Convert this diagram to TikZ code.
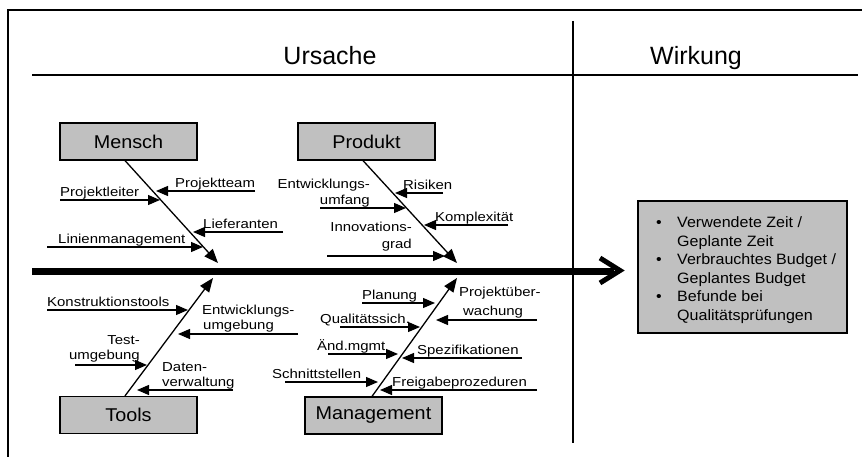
\documentclass[tikz,border=0pt]{standalone}
\usepackage{fontspec}
\setmainfont{Liberation Sans}
\newfontfamily\lblfont{Liberation Sans}[FakeStretch=1.15]
\newfontfamily\boxfont{Liberation Sans}[FakeStretch=1.07]
\usetikzlibrary{arrows.meta}
\definecolor{boxgray}{RGB}{192,192,192}
\begin{document}
\begin{tikzpicture}[x=1pt,y=-1pt,
  cat/.style={draw=black, line width=1.2pt, fill=boxgray, minimum width=137pt, minimum height=37pt, inner sep=0pt, font=\boxfont\fontsize{18.5}{21}\selectfont},
  lbl/.style={inner sep=0pt, font=\lblfont\fontsize{13}{15}\selectfont},
  lw/.style={lbl, anchor=base west},
  le/.style={lbl, anchor=base east},
  arr/.style={line width=1.2pt, -{Triangle[length=12pt,width=10pt]}},
  bone/.style={line width=1.3pt, -{Triangle[length=14pt,width=11pt]}},
  head/.style={font=\fontsize{25}{30}\selectfont, anchor=base, inner sep=0pt},
]
\useasboundingbox[fill=white] (0,0) rectangle (862,457);
% frame and header
\draw[line width=2pt] (8,457) -- (8,10) -- (862,10);
\draw[line width=1.3pt] (32,75) -- (858,75);
\draw[line width=2pt] (573,21) -- (573,443);
\node[head] (ursache) at (330,65) {Ursache};
\node[head] (wirkung) at (696,65) {Wirkung};

% category boxes
\node[cat] (mensch) at (128.5,141.5) {Mensch};
\node[cat] (produkt) at (366.5,141.5) {Produkt};
\node[cat] (tools) at (128.5,415) {Tools};
\node[cat] (mgmt) at (373.5,415.5) {Management};

% spine
\coordinate (sps) at (32,271);
\coordinate (spe) at (614,271);
\draw[line width=7pt] (sps) -- (spe);
\coordinate (ch1) at (600,258);
\coordinate (ch2) at (620,270.5);
\coordinate (ch3) at (600,283);
\draw[line width=5pt, line join=miter] (ch1) -- (ch2) -- (ch3);

% bones
\coordinate (mbe) at (218,263);
\coordinate (pbe) at (457,263);
\coordinate (tbe) at (213,278);
\coordinate (gbe) at (457,278);
\draw[bone] ([xshift=-3.5pt]mensch.south) -- (mbe);
\draw[bone] ([xshift=-3.5pt]produkt.south) -- (pbe);
\draw[bone] ([xshift=-3.5pt]tools.north) -- (tbe);
\draw[bone] ([xshift=-1.5pt]mgmt.north) -- (gbe);

% Mensch causes
\coordinate (a1s) at (255,191); \coordinate (a1e) at (156,191);
\draw[arr] (a1s) -- (a1e);
\node[lw] (t1) at (175,187.5) {Projektteam};
\coordinate (a2s) at (60,200); \coordinate (a2e) at (160,200);
\draw[arr] (a2s) -- (a2e);
\node[lw] (t2) at (60,196.5) {Projektleiter};
\coordinate (a3s) at (283,232); \coordinate (a3e) at (193,232);
\draw[arr] (a3s) -- (a3e);
\node[lw] (t3) at (203,228.5) {Lieferanten};
\coordinate (a4s) at (47,247); \coordinate (a4e) at (203,247);
\draw[arr] (a4s) -- (a4e);
\node[lw] (t4) at (58,243.5) {Linienmanagement};

% Produkt causes
\coordinate (a5s) at (443,193); \coordinate (a5e) at (395,193);
\draw[arr] (a5s) -- (a5e);
\node[lw] (t5) at (403,189.5) {Risiken};
\coordinate (a6s) at (320,208); \coordinate (a6e) at (406,208);
\draw[arr] (a6s) -- (a6e);
\node[le] (t6a) at (370,189) {Entwicklungs-};
\node[le] (t6b) at (370,204.5) {umfang};
\coordinate (a7s) at (508,225); \coordinate (a7e) at (424,225);
\draw[arr] (a7s) -- (a7e);
\node[lw] (t7) at (435,221.5) {Komplexität};
\coordinate (a8s) at (327,256); \coordinate (a8e) at (445,256);
\draw[arr] (a8s) -- (a8e);
\node[le] (t8a) at (412,232) {Innovations-};
\node[le] (t8b) at (412,248) {grad};

% Tools causes
\coordinate (a9s) at (47,310); \coordinate (a9e) at (188,310);
\draw[arr] (a9s) -- (a9e);
\node[lw] (t9) at (47,306.5) {Konstruktionstools};
\coordinate (a10s) at (298,334); \coordinate (a10e) at (178,334);
\draw[arr] (a10s) -- (a10e);
\node[lw] (t10a) at (202,314.5) {Entwicklungs-};
\node[lw] (t10b) at (203,329) {umgebung};
\coordinate (a11s) at (75,365); \coordinate (a11e) at (147,365);
\draw[arr] (a11s) -- (a11e);
\node[le] (t11a) at (140,344.5) {Test-};
\node[le] (t11b) at (140,359.5) {umgebung};
\coordinate (a12s) at (233,390); \coordinate (a12e) at (137,390);
\draw[arr] (a12s) -- (a12e);
\node[lw] (t12a) at (162,371.5) {Daten-};
\node[lw] (t12b) at (162,386.5) {verwaltung};

% Management causes
\coordinate (a13s) at (362,303); \coordinate (a13e) at (435,303);
\draw[arr] (a13s) -- (a13e);
\node[lw] (t13) at (362,299.5) {Planung};
\coordinate (a14s) at (537,320); \coordinate (a14e) at (436,320);
\draw[arr] (a14s) -- (a14e);
\node[lw] (t14a) at (459,296.5) {Projektüber-};
\node[lw] (t14b) at (463,315) {wachung};
\coordinate (a15s) at (340,327); \coordinate (a15e) at (420,327);
\draw[arr] (a15s) -- (a15e);
\node[lw] (t15) at (320,323.5) {Qualitätssich.};
\coordinate (a16s) at (328,354); \coordinate (a16e) at (398,354);
\draw[arr] (a16s) -- (a16e);
\node[lw] (t16) at (317,350.5) {Änd.mgmt};
\coordinate (a17s) at (522,358); \coordinate (a17e) at (402,358);
\draw[arr] (a17s) -- (a17e);
\node[lw] (t17) at (417,354.5) {Spezifikationen};
\coordinate (a18s) at (285,382); \coordinate (a18e) at (378,382);
\draw[arr] (a18s) -- (a18e);
\node[lw] (t18) at (272,378.5) {Schnittstellen};
\coordinate (a19s) at (537,390); \coordinate (a19e) at (380,390);
\draw[arr] (a19s) -- (a19e);
\node[lw] (t19) at (392,386.5) {Freigabeprozeduren};

% effect box
\node[draw=black, line width=1.2pt, fill=boxgray, minimum width=209pt, minimum height=132pt, inner sep=0pt] (wbox) at (742.5,267) {};
\node[anchor=base west, inner sep=0pt, font=\boxfont\fontsize{15}{18.5}\selectfont] (wtext) at (656,228)
  {\begin{tabular}[t]{@{}l@{}}
   \makebox[21pt][l]{•}Verwendete Zeit /\\
   \hspace{21pt}Geplante Zeit\\
   \makebox[21pt][l]{•}Verbrauchtes Budget /\\
   \hspace{21pt}Geplantes Budget\\
   \makebox[21pt][l]{•}Befunde bei\\
   \hspace{21pt}Qualitätsprüfungen
   \end{tabular}};
\end{tikzpicture}
\end{document}
